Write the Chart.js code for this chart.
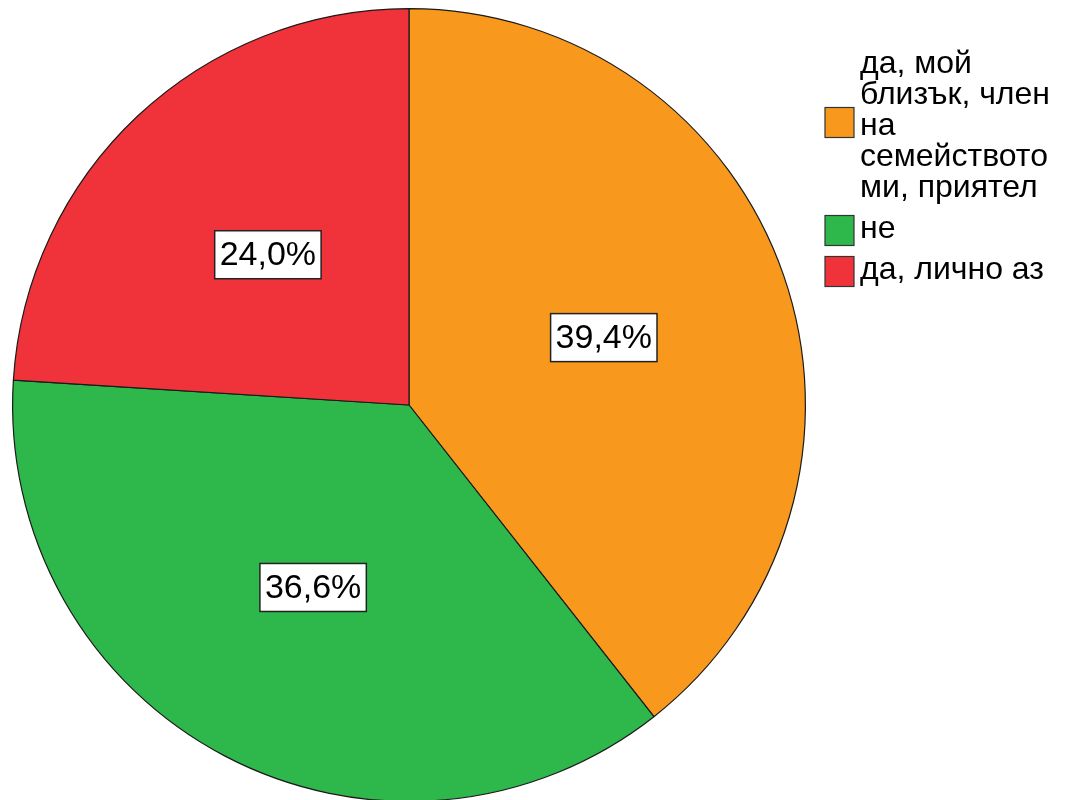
<!DOCTYPE html>
<html>
<head>
<meta charset="utf-8">
<script src="https://cdn.jsdelivr.net/npm/chart.js@4/dist/chart.umd.min.js"></script>
<style>
  html, body { margin: 0; padding: 0; background: #fff; overflow: hidden; }
  #pie { display: block; }
</style>
</head>
<body>
<canvas id="pie" width="1069" height="810"></canvas>
<script>
// Answer categories and their shares (%)
const categories = [
    "да, мой близък, член на семейството ми, приятел",
    "не",
    "да, лично аз",
];
const shares = [39.4, 36.6, 24.0];
const sliceColors = ["#F8991D", "#2EB84B", "#F0333B"];

const FONT = '"Liberation Sans", Arial, sans-serif';

// Percentage boxes inside each slice
const sliceLabels = {
    id: "sliceLabels",
    afterDatasetsDraw(chart) {
        const ctx = chart.ctx;
        const meta = chart.getDatasetMeta(0);
        ctx.save();
        ctx.font = `34px ${FONT}`;
        ctx.textAlign = "center";
        ctx.textBaseline = "middle";
        meta.data.forEach((arc, i) => {
            const mid = (arc.startAngle + arc.endAngle) / 2;
            const r = arc.outerRadius * 0.52;
            const x = arc.x + Math.cos(mid) * r;
            const y = arc.y + Math.sin(mid) * r;
            const text = shares[i].toFixed(1).replace(".", ",") + "%";
            const w = ctx.measureText(text).width + 10;
            const h = 48;
            ctx.fillStyle = "#fff";
            ctx.fillRect(x - w / 2, y - h / 2, w, h);
            ctx.strokeStyle = "#222";
            ctx.lineWidth = 1.5;
            ctx.strokeRect(x - w / 2, y - h / 2, w, h);
            ctx.fillStyle = "#000";
            ctx.fillText(text, x, y + 1);
        });
        ctx.restore();
    },
};

// Legend on the right, long labels wrapped to a fixed width
const sideLegend = {
    id: "sideLegend",
    afterDraw(chart) {
        const ctx = chart.ctx;
        const boxX = 825, textX = 860, maxWidth = 205;
        const lineH = 31, gap = 10;
        let top = 48;
        ctx.save();
        ctx.font = `32px ${FONT}`;
        ctx.textAlign = "left";
        ctx.textBaseline = "alphabetic";
        categories.forEach((label, i) => {
            const words = label.split(" ");
            const lines = [];
            let cur = "";
            words.forEach((word) => {
                const test = cur ? cur + " " + word : word;
                if (cur && ctx.measureText(test).width > maxWidth) {
                    lines.push(cur);
                    cur = word;
                } else {
                    cur = test;
                }
            });
            lines.push(cur);

            const blockH = lines.length * lineH;
            const cy = top + blockH / 2 + (lines.length > 1 ? -3 : 2);
            ctx.fillStyle = sliceColors[i];
            ctx.fillRect(boxX, cy - 15, 29, 30);
            ctx.strokeStyle = "#333";
            ctx.lineWidth = 1.2;
            ctx.strokeRect(boxX, cy - 15, 29, 30);

            ctx.fillStyle = "#000";
            lines.forEach((line, j) => {
                ctx.fillText(line, textX, top + 25 + j * lineH);
            });
            top += blockH + gap;
        });
        ctx.restore();
    },
};

new Chart(document.getElementById("pie"), {
    type: "pie",
    data: {
        labels: categories,
        datasets: [
            {
                data: shares,
                backgroundColor: sliceColors,
                borderColor: "#1a1a1a",
                borderWidth: 1.2,
            },
        ],
    },
    options: {
        responsive: false,
        animation: false,
        layout: {
            padding: { left: 12, top: 8, right: 263, bottom: 8 },
        },
        plugins: {
            legend: { display: false },
            tooltip: { enabled: false },
        },
    },
    plugins: [sliceLabels, sideLegend],
});
</script>
</body>
</html>
